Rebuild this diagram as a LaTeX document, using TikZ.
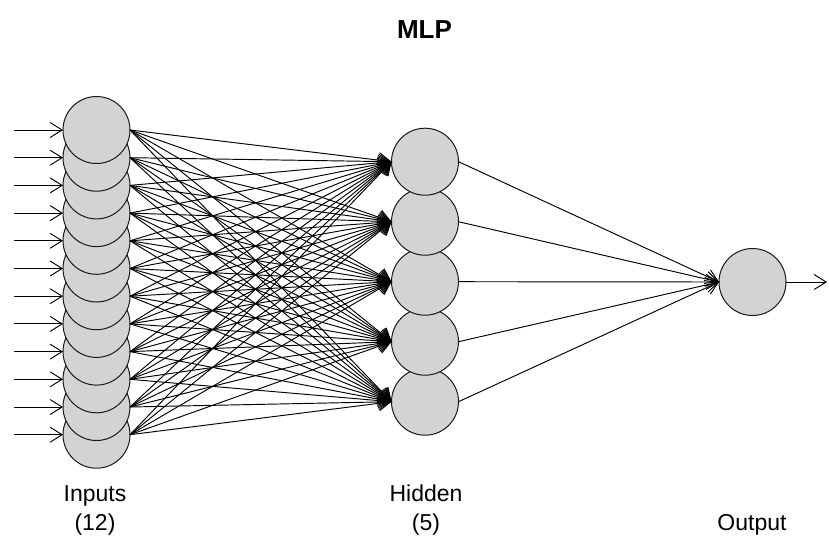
\documentclass[tikz,border=0pt]{standalone}
\usepackage{fontspec}
\setmainfont{Liberation Sans}
\usetikzlibrary{arrows.meta}
\definecolor{nfill}{RGB}{211,211,211}
\definecolor{nline}{RGB}{25,25,25}
\begin{document}
\begin{tikzpicture}[x=1pt,y=-1pt,
  neuron/.style={circle, draw=nline, fill=nfill, line width=1pt, minimum size=67pt, inner sep=0pt, outer sep=0pt},
  conn/.style={line width=0.95pt, -{Straight Barb[length=12pt,width=15pt,line width=0.95pt]}},
  lbl/.style={font=\fontsize{23}{29}\selectfont, anchor=base}]
\useasboundingbox (0,0) rectangle (829,536);
% input neurons (lower drawn first so upper overlap)
\foreach \k in {12,11,...,1}
  \node[neuron] (i\k) at (96.5,{130+27.7*(\k-1)}) {};
% hidden neurons
\foreach \k in {5,4,...,1}
  \node[neuron] (h\k) at (425,{161.7+60*(\k-1)}) {};
% output neuron
\node[neuron] (o) at (752.5,282) {};
% input arrows
\foreach \k in {1,...,12}{
  \coordinate (s\k) at (14,{130+27.7*(\k-1)});
  \draw[conn] (s\k) -- (i\k.west);
}
% input -> hidden
\foreach \i in {1,...,12}
  \foreach \h in {1,...,5}
    \draw[conn] (i\i.east) -- (h\h.west);
% hidden -> output
\foreach \h in {1,...,5}
  \draw[conn] (h\h.east) -- (o.west);
% output arrow
\coordinate (e) at (827,282);
\draw[conn] (o.east) -- (e);
% labels
\node[font=\fontsize{26}{30}\selectfont\bfseries, anchor=base] (title) at (424.5,38) {MLP};
\node[lbl] (lin1) at (95,501) {Inputs};
\node[lbl] (lin2) at (95,530) {(12)};
\node[lbl] (lhid1) at (426,501) {Hidden};
\node[lbl] (lhid2) at (426,530) {(5)};
\node[lbl] (lout) at (752,530) {Output};
\end{tikzpicture}
\end{document}
